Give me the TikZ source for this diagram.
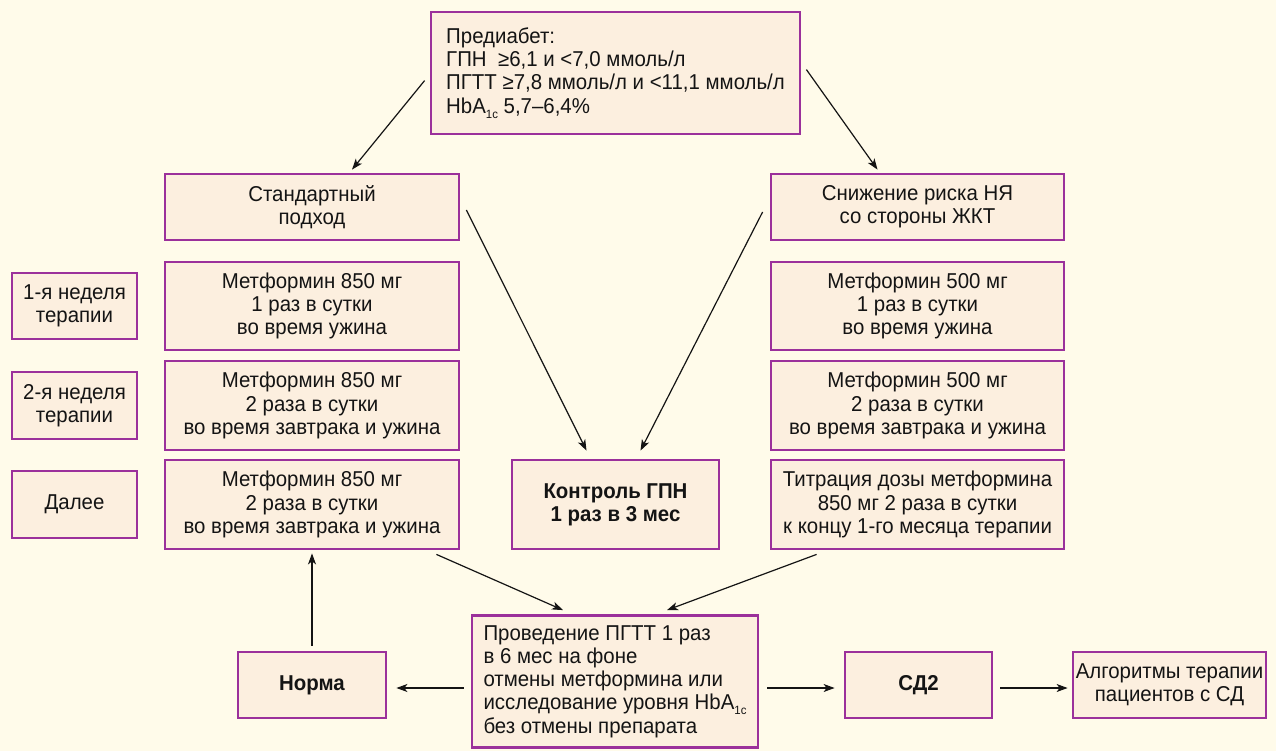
\documentclass[tikz,border=0pt]{standalone}
\usepackage{fontspec}
\setmainfont{Liberation Sans}[FakeStretch=0.95]
\usetikzlibrary{arrows.meta,calc}
\definecolor{bgc}{HTML}{FFFBEA}
\definecolor{boxfill}{HTML}{FCEFDF}
\definecolor{boxline}{HTML}{9B309B}
\definecolor{ink}{HTML}{141414}
\newcommand{\hbsub}{\raisebox{-5pt}{\fontsize{12}{12}\selectfont 1c}}
\begin{document}
\begin{tikzpicture}[x=1pt,y=-1pt,
  box/.style={draw=boxline,line width=2.8pt,fill=boxfill,inner sep=0pt,align=center,
    text=ink,font=\fontsize{21.5}{23.3}\selectfont},
  bbox/.style={box,font=\fontsize{21.5}{23.3}\selectfont\bfseries},
  arr/.style={draw=ink,line width=1.2pt,-{Stealth[length=11pt,width=8pt,inset=3pt]}}]
\fill[bgc] (0,0) rectangle (1276,751);
\useasboundingbox (0,0) rectangle (1276,751);

\node[box,align=left,minimum width=369pt,minimum height=122pt] (top) at (615.5,73)
  {Предиабет:\\ГПН\ \ ≥6,1 и <7,0 ммоль/л\\ПГТТ ≥7,8 ммоль/л и <11,1 ммоль/л\\HbA\hbsub{} 5,7–6,4\%};

\node[box,minimum width=294pt,minimum height=66pt] (std) at (312,207) {Стандартный\\подход};
\node[box,minimum width=293pt,minimum height=66pt] (risk) at (917.5,207) {Снижение риска НЯ\\со стороны ЖКТ};

\node[box,minimum width=125pt,minimum height=66pt] (w1) at (74.5,306) {1-я неделя\\терапии};
\node[box,minimum width=125pt,minimum height=67pt] (w2) at (74.5,405.5) {2-я неделя\\терапии};
\node[box,minimum width=125pt,minimum height=67pt] (dal) at (74.5,504.5) {Далее};

\node[box,minimum width=294pt,minimum height=88pt] (m1) at (312,306) {Метформин 850 мг\\1 раз в сутки\\во время ужина};
\node[box,minimum width=294pt,minimum height=89pt] (m2) at (312,405.5) {Метформин 850 мг\\2 раза в сутки\\во время завтрака и ужина};
\node[box,minimum width=294pt,minimum height=89pt] (m3) at (312,504.5) {Метформин 850 мг\\2 раза в сутки\\во время завтрака и ужина};

\node[box,minimum width=293pt,minimum height=88pt] (r1) at (917.5,306) {Метформин 500 мг\\1 раз в сутки\\во время ужина};
\node[box,minimum width=293pt,minimum height=89pt] (r2) at (917.5,405.5) {Метформин 500 мг\\2 раза в сутки\\во время завтрака и ужина};
\node[box,minimum width=293pt,minimum height=89pt] (r3) at (917.5,504.5) {Титрация дозы метформина\\850 мг 2 раза в сутки\\к концу 1-го месяца терапии};

\node[bbox,minimum width=207pt,minimum height=89pt] (ctrl) at (615.5,504.5) {Контроль ГПН\\1 раз в 3 мес};

\node[box,align=left,minimum width=286pt,minimum height=132pt] (ogtt) at (615,681.5)
  {Проведение ПГТТ 1 раз\\в 6 мес на фоне\\отмены метформина или\\исследование уровня HbA\hbsub\\без отмены препарата};

\node[bbox,minimum width=148pt,minimum height=66pt] (norm) at (312,685) {Норма};
\node[bbox,minimum width=147pt,minimum height=66pt] (sd2) at (918.5,685) {СД2};
\node[box,minimum width=193pt,minimum height=66pt] (alg) at (1169.5,685) {Алгоритмы терапии\\пациентов с СД};

\draw[arr] ($(top.north west)+(-5,70)$) -- ($(std.north)+(40,-3)$);
\draw[arr] ($(top.north east)+(5,59)$) -- ($(risk.north)+(-40,-3)$);
\draw[arr] ($(std.east)+(6,3)$) -- ($(ctrl.north)+(-29,-8)$);
\draw[arr] ($(risk.west)+(-7,5)$) -- ($(ctrl.north)+(25,-8)$);
\draw[arr] ($(m3.south east)+(-24,4)$) -- ($(ogtt.north)+(-52,-4)$);
\draw[arr] ($(r3.south west)+(47,4)$) -- ($(ogtt.north)+(52,-4)$);
\draw[arr] ($(norm.north)+(0,-5)$) -- ($(m3.south)+(0,3)$);
\draw[arr] ($(ogtt.west)+(-7,6.5)$) -- ($(norm.east)+(9,3)$);
\draw[arr] ($(ogtt.east)+(8,6.5)$) -- ($(sd2.west)+(-9,3)$);
\draw[arr] ($(sd2.east)+(7,3)$) -- ($(alg.west)+(-4,3)$);
\end{tikzpicture}
\end{document}
